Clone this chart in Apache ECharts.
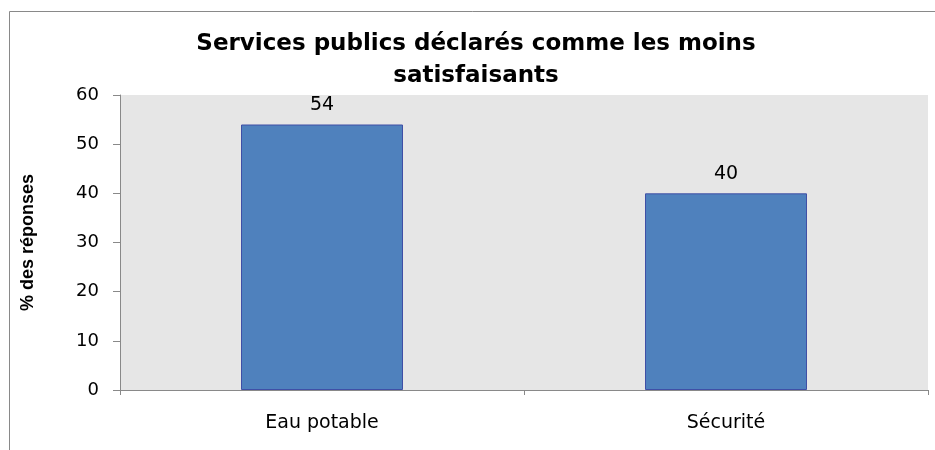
<!DOCTYPE html>
<html>
<head>
<meta charset="utf-8">
<script src="https://cdn.jsdelivr.net/npm/echarts@6/dist/echarts.min.js"></script>
<style>
html,body{margin:0;padding:0;background:#fff;}
#chart{width:935px;height:450px;}
</style>
</head>
<body>
<div id="chart"></div>
<script>
const titleText = 'Services publics déclarés comme les moins\nsatisfaisants';
const yAxisTitle = '% des réponses';
const categories = ['Eau potable', 'Sécurité'];
const values = [54, 40];
const yTicks = { min: 0, max: 60, interval: 10 };

const chart = echarts.init(document.getElementById('chart'), null, { renderer: 'canvas' });
const axisGray = '#898989';
chart.setOption({
  animation: false,
  backgroundColor: '#ffffff',
  graphic: [{
    type: 'rect',
    shape: { x: 9.5, y: 11.5, width: 1000, height: 1000 },
    style: { fill: 'none', stroke: axisGray, lineWidth: 1 },
    silent: true
  }],
  title: {
    text: titleText,
    left: 476,
    top: 28,
    textAlign: 'center',
    padding: 0,
    textStyle: {
      fontFamily: '"DejaVu Sans", sans-serif',
      fontWeight: 'bold',
      fontSize: 23,
      lineHeight: 32,
      color: '#000'
    }
  },
  grid: {
    left: 120, right: 7, top: 95, bottom: 60,
    show: true, backgroundColor: '#e6e6e6', borderWidth: 0
  },
  xAxis: {
    type: 'category',
    data: categories,
    axisLine: { show: true, lineStyle: { color: axisGray, width: 1 } },
    axisTick: { show: true, alignWithLabel: false, length: 5, lineStyle: { color: axisGray } },
    axisLabel: {
      color: '#000', fontFamily: '"DejaVu Sans", sans-serif', fontSize: 19, margin: 24
    },
    splitLine: { show: false }
  },
  yAxis: {
    type: 'value',
    min: yTicks.min, max: yTicks.max, interval: yTicks.interval,
    name: yAxisTitle,
    nameLocation: 'middle',
    nameRotate: 90,
    nameGap: 83,
    nameTextStyle: {
      fontFamily: '"Liberation Sans", sans-serif', fontWeight: 'bold', fontSize: 18, color: '#000'
    },
    axisLine: { show: true, lineStyle: { color: axisGray, width: 1 } },
    axisTick: { show: true, length: 7, lineStyle: { color: axisGray } },
    axisLabel: {
      color: '#000', fontFamily: '"DejaVu Sans", sans-serif', fontSize: 18, margin: 21
    },
    splitLine: { show: false }
  },
  series: [{
    type: 'bar',
    data: values,
    barWidth: 162,
    itemStyle: { color: '#4f81bd', borderColor: '#3f4fa6', borderWidth: 1 },
    label: {
      show: true, position: 'top', distance: 10,
      color: '#000', fontFamily: '"DejaVu Sans", sans-serif', fontSize: 19
    }
  }]
});
</script>
</body>
</html>
